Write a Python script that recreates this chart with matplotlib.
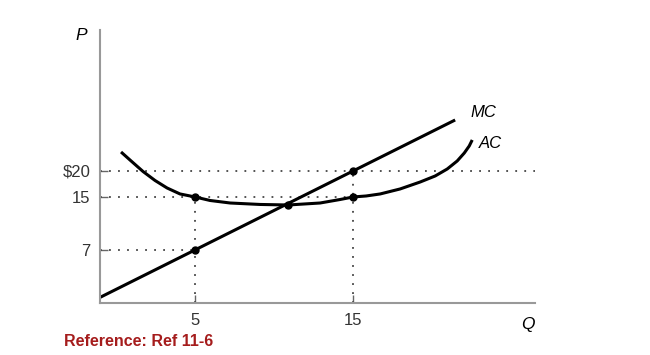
import numpy as np
import matplotlib.pyplot as plt

plt.rcParams['font.family'] = ['Liberation Sans', 'DejaVu Sans']

mc_q = [-1.0, 21.45]
mc_p = [0.75, 29.8]

ac_q = [0.32, 0.89, 1.71, 2.47, 3.23, 4.05, 5.0, 5.95, 7.22, 9.11, 10.89, 12.91, 14.18, 15.0,
        15.82, 16.71, 17.97, 19.24, 20.19, 20.95, 21.58, 22.03, 22.34, 22.53]
ac_p = [23.65, 22.1, 19.9, 18.17, 16.73, 15.58, 15.0, 14.47, 14.09, 13.87, 13.79, 14.09, 14.62, 15.0,
        15.19, 15.58, 16.54, 17.88, 19.04, 20.38, 21.92, 23.46, 24.8, 25.96]

dot_q = [5, 5, 15, 15, 10.9]
dot_p = [15, 7, 20, 15, 13.8]

yticks = [7, 15, 20]
ytick_labels = ["7", "15", "$20"]
xticks = [5, 15]

# the price axis in the original is not evenly spaced
p_vals = [0, 7, 15, 20, 100]
p_pos = [0, 53, 106, 132, 548]


def fwd(v):
    return np.interp(v, p_vals, p_pos)


def inv(h):
    return np.interp(h, p_pos, p_vals)


fig = plt.figure(figsize=(6.5, 3.55), dpi=100)
ax = fig.add_axes([100 / 650, 52 / 355, 435 / 650, 273 / 355])
ax.set_yscale('function', functions=(fwd, inv))
ax.set_xlim(-1.01, 26.5)
ax.set_ylim(0, 47.1)

dot = dict(color='#444444', linestyle=(0, (1, 4)), linewidth=1.3)
ax.plot([-1.01, 26.5], [20, 20], **dot)
ax.plot([-1.01, 15], [15, 15], **dot)
ax.plot([-1.01, 5], [7, 7], **dot)
ax.plot([5, 5], [0, 15], **dot)
ax.plot([15, 15], [0, 20], **dot)

ax.plot(mc_q, mc_p, color='black', linewidth=2.2, solid_capstyle='butt')
ax.plot(ac_q, ac_p, color='black', linewidth=2.2, solid_capstyle='butt', solid_joinstyle='round')
ax.plot(dot_q, dot_p, 'o', color='black', markersize=5)

ax.text(22.4, 31.2, "MC", fontsize=12, style='italic', va='center', ha='left')
ax.text(22.97, 25.2, "AC", fontsize=12, style='italic', va='center', ha='left')

for s in ['top', 'right']:
    ax.spines[s].set_visible(False)
for s in ['left', 'bottom']:
    ax.spines[s].set_color('#999999')
    ax.spines[s].set_linewidth(1.5)

ax.set_yticks(yticks)
ax.set_yticklabels(ytick_labels)
ax.set_xticks(xticks)
ax.yaxis.set_minor_locator(plt.NullLocator())
ax.xaxis.set_minor_locator(plt.NullLocator())
ax.tick_params(direction='in', length=6, width=1, color='#666666',
               labelsize=12, colors='#333333')
ax.tick_params(axis='y', pad=7)
ax.tick_params(axis='x', pad=7)

fig.text(81 / 650, 1 - 36 / 355, "P", fontsize=12.5, style='italic', ha='center', va='center')
fig.text(528 / 650, 1 - 324 / 355, "Q", fontsize=12.5, style='italic', ha='center', va='center')
fig.text(64 / 650, 1 - 341 / 355, "Reference: Ref 11-6", fontsize=11.5, fontweight='bold',
         color='#a51c1c', ha='left', va='center')

fig.savefig('out.png', dpi=100)
